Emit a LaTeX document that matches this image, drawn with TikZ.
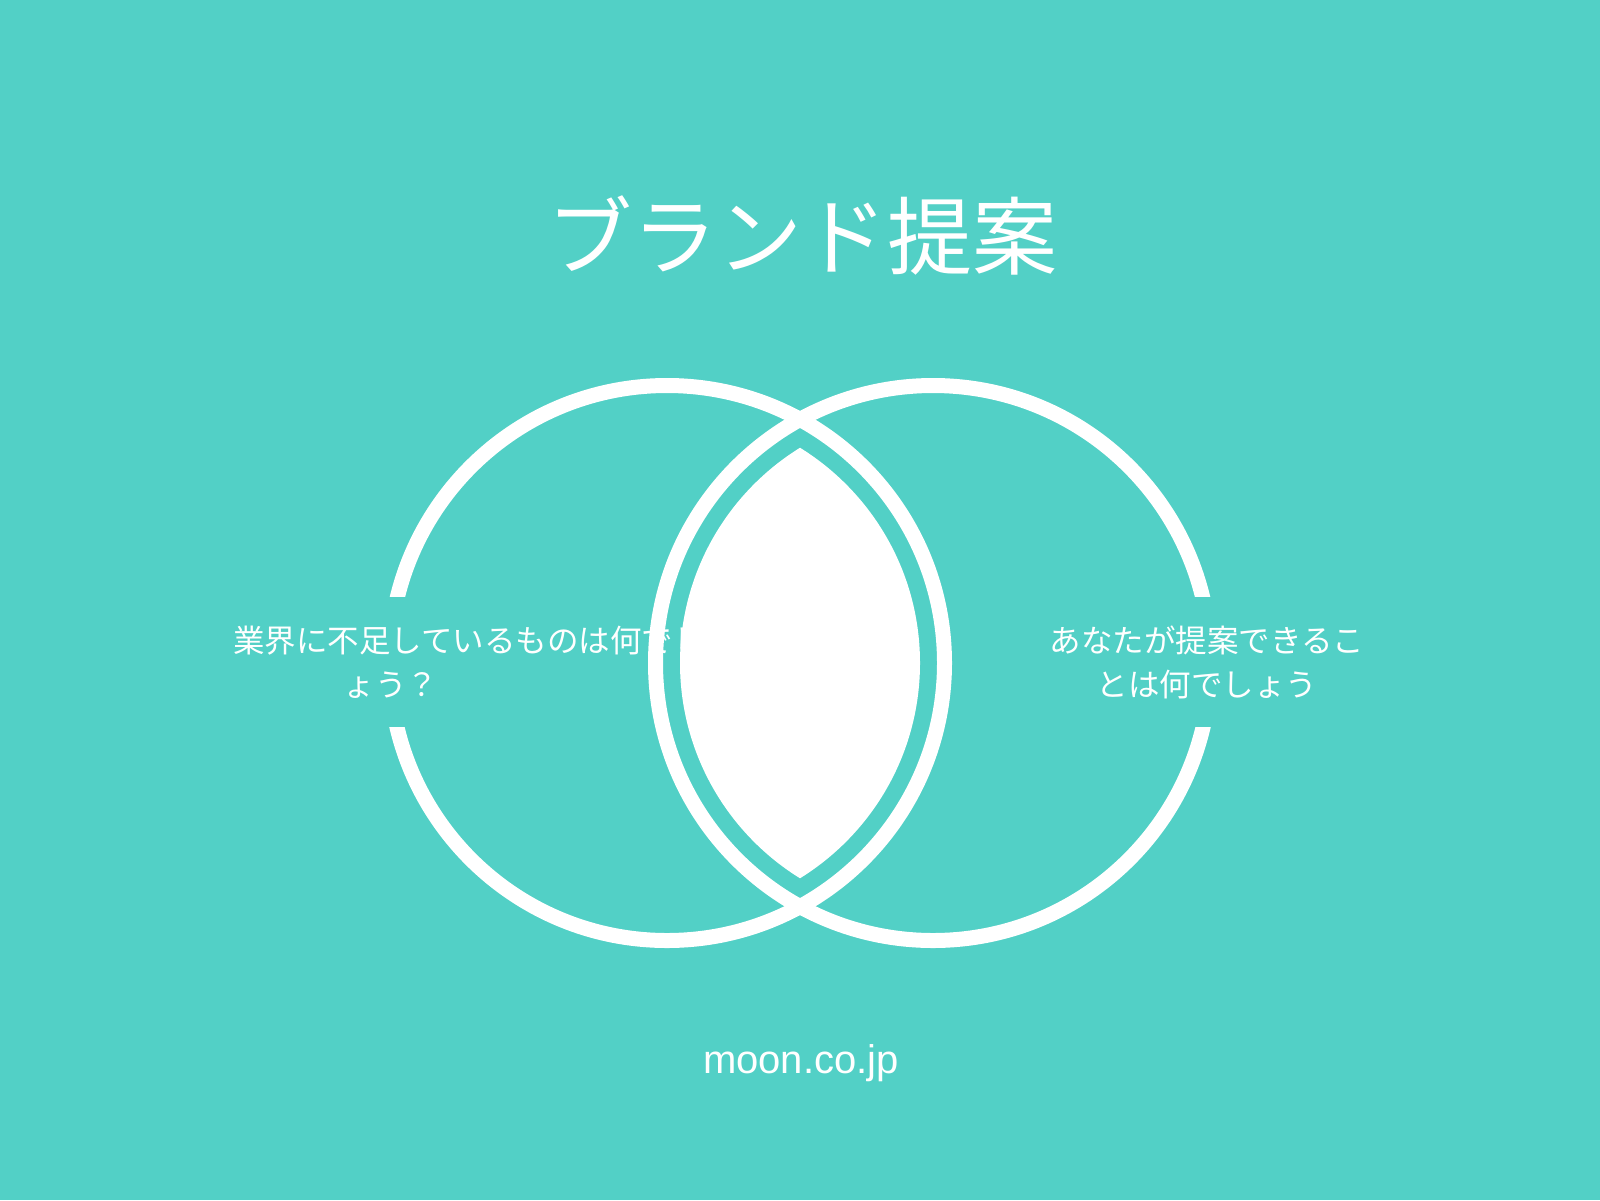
\documentclass[tikz,border=0pt]{standalone}
\usepackage{fontspec}
\setmainfont{Noto Sans CJK JP}
\newfontfamily\latinfont{Liberation Sans}
\usetikzlibrary{positioning}
\definecolor{mint}{RGB}{82,208,198}

\begin{document}
\begin{tikzpicture}[x=1pt,y=-1pt]
\tikzstyle{ring} = [draw=white, line width=15pt]
\tikzstyle{veil} = [fill=mint, text=white, minimum width=316pt, minimum height=130pt, text width=316pt, align=center, inner sep=0pt, font=\fontsize{31.5pt}{44pt}\selectfont]

\fill [mint] (0,0) rectangle (1600,1200);
\useasboundingbox (0,0) rectangle (1600,1200);

\coordinate (left) at (667,663);
\coordinate (right) at (933,663);

\node [text=white, font=\fontsize{85pt}{90pt}\selectfont] (title) at (802,235) {ブランド提案};

\draw [ring] (left) circle (277.5);
\draw [ring] (right) circle (277.5);

\node [veil] (need) at (391,662) {\makebox[316pt][l]{業界に不足しているものは何でし}\\ょう？};
\node [veil] (offer) at (1207,662) {あなたが提案できるこ\\とは何でしょう};

\begin{scope}
\clip (left) circle (253);
\fill [white] (right) circle (253);
\end{scope}

\node [text=white, font=\latinfont\fontsize{40pt}{48pt}\selectfont] (site) at (801,1063) {moon.co.jp};
\end{tikzpicture}
\end{document}
